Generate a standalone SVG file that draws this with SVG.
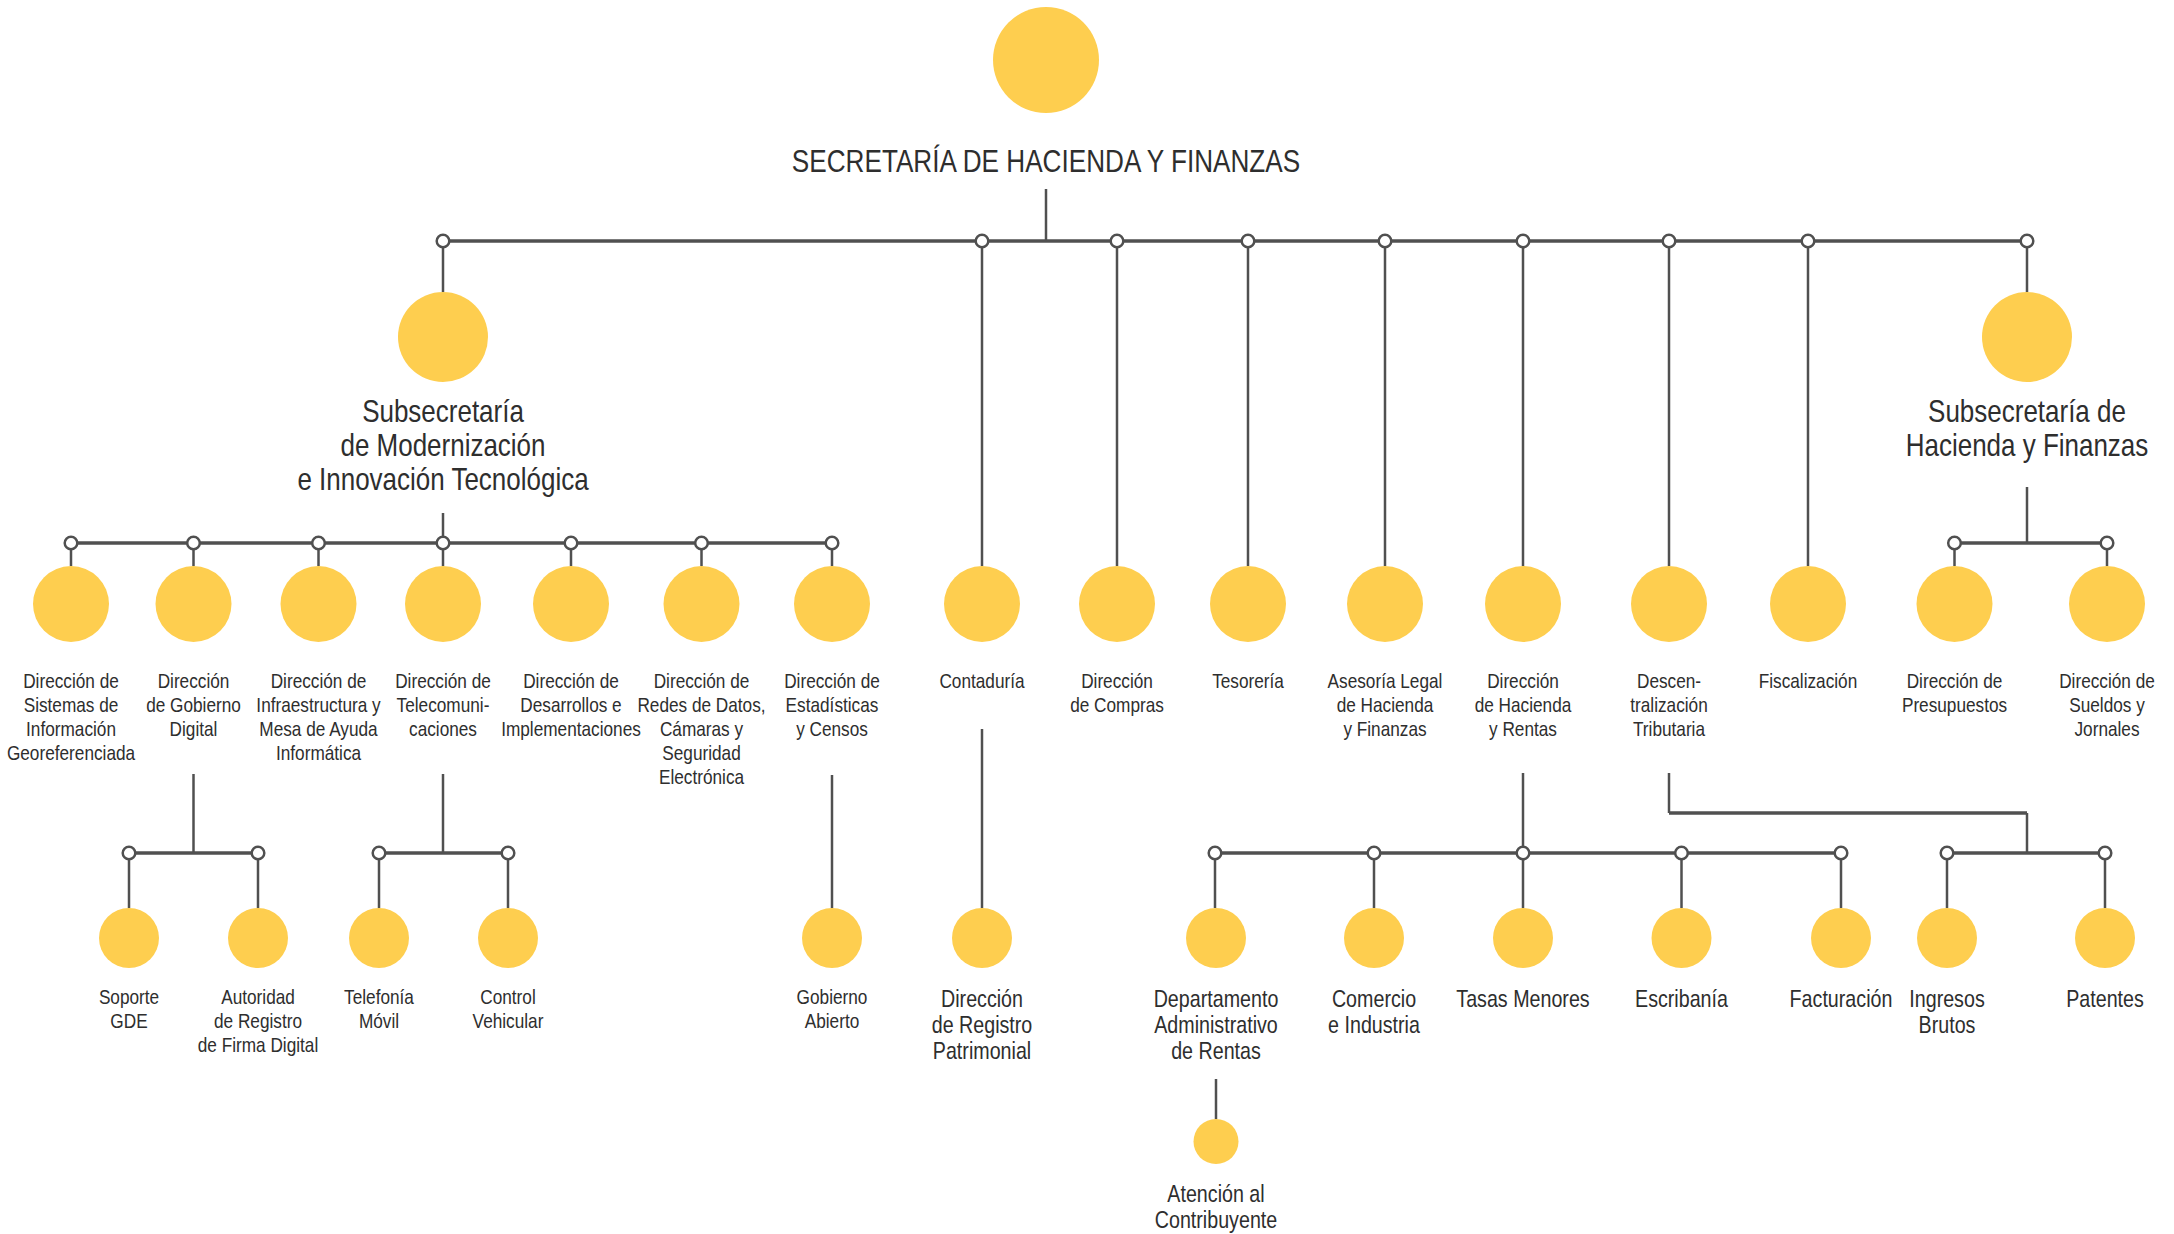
<svg xmlns="http://www.w3.org/2000/svg" width="2174" height="1234" viewBox="0 0 2174 1234">
<style>
  .bg { fill: #ffffff; }
  .node circle { fill: #FECE4F; }
  .lbl { font-family: "Liberation Sans", Arial, sans-serif; fill: #2e2e2e; text-anchor: middle; }
  .f32 { font-size: 31.5px; }
  .f24 { font-size: 24px; }
  .f21 { font-size: 21px; }
  .v { stroke: #505050; stroke-width: 2.5; fill: none; }
  .bar { stroke: #505050; stroke-width: 3.5; fill: none; }
  .dot { fill: #ffffff; stroke: #505050; stroke-width: 2.5; }
</style>
<rect class="bg" x="0" y="0" width="2174" height="1234"/>

<g id="connectors">
  <!-- level 0 -->
  <path class="v" d="M1046 189 V241"/>
  <path class="bar" d="M443 241 H2027"/>
  <path class="v" d="M443 241 V292 M2027 241 V292 M982 241 V566 M1117 241 V566 M1248 241 V566 M1385 241 V566 M1523 241 V566 M1669 241 V566 M1808 241 V566"/>
  <!-- left subsecretaria -->
  <path class="v" d="M443 513 V543"/>
  <path class="bar" d="M71 543 H832"/>
  <path class="v" d="M71 543 V566 M193.5 543 V566 M318.5 543 V566 M443 543 V566 M571 543 V566 M701.5 543 V566 M832 543 V566"/>
  <!-- right subsecretaria -->
  <path class="v" d="M2027 487 V543"/>
  <path class="bar" d="M1954.5 543 H2107"/>
  <path class="v" d="M1954.5 543 V566 M2107 543 V566"/>
  <!-- gobierno digital -->
  <path class="v" d="M193.5 774 V853"/>
  <path class="bar" d="M129 853 H258"/>
  <path class="v" d="M129 853 V908 M258 853 V908"/>
  <!-- telecomunicaciones -->
  <path class="v" d="M443 774 V853"/>
  <path class="bar" d="M379 853 H508"/>
  <path class="v" d="M379 853 V908 M508 853 V908"/>
  <!-- estadisticas -->
  <path class="v" d="M832 775 V908"/>
  <!-- contaduria -->
  <path class="v" d="M982 729 V908"/>
  <!-- hacienda y rentas -->
  <path class="v" d="M1523 773 V853"/>
  <path class="bar" d="M1215 853 H1841"/>
  <path class="v" d="M1215 853 V908 M1374 853 V908 M1523 853 V908 M1681.5 853 V908 M1841 853 V908"/>
  <!-- descentralizacion -->
  <path class="v" d="M1669 773 V813"/>
  <path class="bar" d="M1669 813 H2027"/>
  <path class="v" d="M2027 813 V853"/>
  <path class="bar" d="M1947 853 H2105"/>
  <path class="v" d="M1947 853 V908 M2105 853 V908"/>
  <!-- departamento -->
  <path class="v" d="M1216 1079 V1119"/>
  <!-- junction dots -->
  <g id="dots">
    <circle class="dot" cx="443" cy="241" r="6.3"/>
    <circle class="dot" cx="982" cy="241" r="6.3"/>
    <circle class="dot" cx="1117" cy="241" r="6.3"/>
    <circle class="dot" cx="1248" cy="241" r="6.3"/>
    <circle class="dot" cx="1385" cy="241" r="6.3"/>
    <circle class="dot" cx="1523" cy="241" r="6.3"/>
    <circle class="dot" cx="1669" cy="241" r="6.3"/>
    <circle class="dot" cx="1808" cy="241" r="6.3"/>
    <circle class="dot" cx="2027" cy="241" r="6.3"/>
    <circle class="dot" cx="71" cy="543" r="6.3"/>
    <circle class="dot" cx="193.5" cy="543" r="6.3"/>
    <circle class="dot" cx="318.5" cy="543" r="6.3"/>
    <circle class="dot" cx="443" cy="543" r="6.3"/>
    <circle class="dot" cx="571" cy="543" r="6.3"/>
    <circle class="dot" cx="701.5" cy="543" r="6.3"/>
    <circle class="dot" cx="832" cy="543" r="6.3"/>
    <circle class="dot" cx="1954.5" cy="543" r="6.3"/>
    <circle class="dot" cx="2107" cy="543" r="6.3"/>
    <circle class="dot" cx="129" cy="853" r="6.3"/>
    <circle class="dot" cx="258" cy="853" r="6.3"/>
    <circle class="dot" cx="379" cy="853" r="6.3"/>
    <circle class="dot" cx="508" cy="853" r="6.3"/>
    <circle class="dot" cx="1215" cy="853" r="6.3"/>
    <circle class="dot" cx="1374" cy="853" r="6.3"/>
    <circle class="dot" cx="1523" cy="853" r="6.3"/>
    <circle class="dot" cx="1681.5" cy="853" r="6.3"/>
    <circle class="dot" cx="1841" cy="853" r="6.3"/>
    <circle class="dot" cx="1947" cy="853" r="6.3"/>
    <circle class="dot" cx="2105" cy="853" r="6.3"/>
  </g>
</g>

<!-- level 0 -->
<g id="n-secretaria" class="node">
  <circle cx="1046" cy="60" r="53"/>
  <text class="lbl f32" transform="translate(1046 0) scale(0.83 1)"><tspan x="0" y="172">SECRETARÍA DE HACIENDA Y FINANZAS</tspan></text>
</g>

<!-- level 1 -->
<g id="n-subsec-modernizacion" class="node">
  <circle cx="443" cy="337" r="45"/>
  <text class="lbl f32" transform="translate(443 0) scale(0.825 1)"><tspan x="0" y="422">Subsecretaría</tspan><tspan x="0" y="456">de Modernización</tspan><tspan x="0" y="490">e Innovación Tecnológica</tspan></text>
</g>
<g id="n-subsec-hacienda" class="node">
  <circle cx="2027" cy="337" r="45"/>
  <text class="lbl f32" transform="translate(2027 0) scale(0.825 1)"><tspan x="0" y="422">Subsecretaría de</tspan><tspan x="0" y="456">Hacienda y Finanzas</tspan></text>
</g>

<!-- level 2 -->
<g id="n-sistemas-info" class="node">
  <circle cx="71" cy="604" r="38"/>
  <text class="lbl f21" transform="translate(71 0) scale(0.82 1)"><tspan x="0" y="688.5">Dirección de</tspan><tspan x="0" y="712.5">Sistemas de</tspan><tspan x="0" y="736.5">Información</tspan><tspan x="0" y="760.5">Georeferenciada</tspan></text>
</g>
<g id="n-gobierno-digital" class="node">
  <circle cx="193.5" cy="604" r="38"/>
  <text class="lbl f21" transform="translate(193.5 0) scale(0.82 1)"><tspan x="0" y="688.5">Dirección</tspan><tspan x="0" y="712.5">de Gobierno</tspan><tspan x="0" y="736.5">Digital</tspan></text>
</g>
<g id="n-infraestructura" class="node">
  <circle cx="318.5" cy="604" r="38"/>
  <text class="lbl f21" transform="translate(318.5 0) scale(0.82 1)"><tspan x="0" y="688.5">Dirección de</tspan><tspan x="0" y="712.5">Infraestructura y</tspan><tspan x="0" y="736.5">Mesa de Ayuda</tspan><tspan x="0" y="760.5">Informática</tspan></text>
</g>
<g id="n-telecomunicaciones" class="node">
  <circle cx="443" cy="604" r="38"/>
  <text class="lbl f21" transform="translate(443 0) scale(0.82 1)"><tspan x="0" y="688.5">Dirección de</tspan><tspan x="0" y="712.5">Telecomuni-</tspan><tspan x="0" y="736.5">caciones</tspan></text>
</g>
<g id="n-desarrollos" class="node">
  <circle cx="571" cy="604" r="38"/>
  <text class="lbl f21" transform="translate(571 0) scale(0.82 1)"><tspan x="0" y="688.5">Dirección de</tspan><tspan x="0" y="712.5">Desarrollos e</tspan><tspan x="0" y="736.5">Implementaciones</tspan></text>
</g>
<g id="n-redes" class="node">
  <circle cx="701.5" cy="604" r="38"/>
  <text class="lbl f21" transform="translate(701.5 0) scale(0.82 1)"><tspan x="0" y="688.5">Dirección de</tspan><tspan x="0" y="712.5">Redes de Datos,</tspan><tspan x="0" y="736.5">Cámaras y</tspan><tspan x="0" y="760.5">Seguridad</tspan><tspan x="0" y="784.5">Electrónica</tspan></text>
</g>
<g id="n-estadisticas" class="node">
  <circle cx="832" cy="604" r="38"/>
  <text class="lbl f21" transform="translate(832 0) scale(0.82 1)"><tspan x="0" y="688.5">Dirección de</tspan><tspan x="0" y="712.5">Estadísticas</tspan><tspan x="0" y="736.5">y Censos</tspan></text>
</g>
<g id="n-contaduria" class="node">
  <circle cx="982" cy="604" r="38"/>
  <text class="lbl f21" transform="translate(982 0) scale(0.82 1)"><tspan x="0" y="688.5">Contaduría</tspan></text>
</g>
<g id="n-compras" class="node">
  <circle cx="1117" cy="604" r="38"/>
  <text class="lbl f21" transform="translate(1117 0) scale(0.82 1)"><tspan x="0" y="688.5">Dirección</tspan><tspan x="0" y="712.5">de Compras</tspan></text>
</g>
<g id="n-tesoreria" class="node">
  <circle cx="1248" cy="604" r="38"/>
  <text class="lbl f21" transform="translate(1248 0) scale(0.82 1)"><tspan x="0" y="688.5">Tesorería</tspan></text>
</g>
<g id="n-asesoria" class="node">
  <circle cx="1385" cy="604" r="38"/>
  <text class="lbl f21" transform="translate(1385 0) scale(0.82 1)"><tspan x="0" y="688.5">Asesoría Legal</tspan><tspan x="0" y="712.5">de Hacienda</tspan><tspan x="0" y="736.5">y Finanzas</tspan></text>
</g>
<g id="n-hacienda-rentas" class="node">
  <circle cx="1523" cy="604" r="38"/>
  <text class="lbl f21" transform="translate(1523 0) scale(0.82 1)"><tspan x="0" y="688.5">Dirección</tspan><tspan x="0" y="712.5">de Hacienda</tspan><tspan x="0" y="736.5">y Rentas</tspan></text>
</g>
<g id="n-descentralizacion" class="node">
  <circle cx="1669" cy="604" r="38"/>
  <text class="lbl f21" transform="translate(1669 0) scale(0.82 1)"><tspan x="0" y="688.5">Descen-</tspan><tspan x="0" y="712.5">tralización</tspan><tspan x="0" y="736.5">Tributaria</tspan></text>
</g>
<g id="n-fiscalizacion" class="node">
  <circle cx="1808" cy="604" r="38"/>
  <text class="lbl f21" transform="translate(1808 0) scale(0.82 1)"><tspan x="0" y="688.5">Fiscalización</tspan></text>
</g>
<g id="n-presupuestos" class="node">
  <circle cx="1954.5" cy="604" r="38"/>
  <text class="lbl f21" transform="translate(1954.5 0) scale(0.82 1)"><tspan x="0" y="688.5">Dirección de</tspan><tspan x="0" y="712.5">Presupuestos</tspan></text>
</g>
<g id="n-sueldos" class="node">
  <circle cx="2107" cy="604" r="38"/>
  <text class="lbl f21" transform="translate(2107 0) scale(0.82 1)"><tspan x="0" y="688.5">Dirección de</tspan><tspan x="0" y="712.5">Sueldos y</tspan><tspan x="0" y="736.5">Jornales</tspan></text>
</g>

<!-- level 3 -->
<g id="n-soporte-gde" class="node">
  <circle cx="129" cy="938" r="30"/>
  <text class="lbl f21" transform="translate(129 0) scale(0.82 1)"><tspan x="0" y="1004">Soporte</tspan><tspan x="0" y="1028">GDE</tspan></text>
</g>
<g id="n-autoridad-firma" class="node">
  <circle cx="258" cy="938" r="30"/>
  <text class="lbl f21" transform="translate(258 0) scale(0.82 1)"><tspan x="0" y="1004">Autoridad</tspan><tspan x="0" y="1028">de Registro</tspan><tspan x="0" y="1052">de Firma Digital</tspan></text>
</g>
<g id="n-telefonia" class="node">
  <circle cx="379" cy="938" r="30"/>
  <text class="lbl f21" transform="translate(379 0) scale(0.82 1)"><tspan x="0" y="1004">Telefonía</tspan><tspan x="0" y="1028">Móvil</tspan></text>
</g>
<g id="n-control-vehicular" class="node">
  <circle cx="508" cy="938" r="30"/>
  <text class="lbl f21" transform="translate(508 0) scale(0.82 1)"><tspan x="0" y="1004">Control</tspan><tspan x="0" y="1028">Vehicular</tspan></text>
</g>
<g id="n-gobierno-abierto" class="node">
  <circle cx="832" cy="938" r="30"/>
  <text class="lbl f21" transform="translate(832 0) scale(0.82 1)"><tspan x="0" y="1004">Gobierno</tspan><tspan x="0" y="1028">Abierto</tspan></text>
</g>
<g id="n-registro-patrimonial" class="node">
  <circle cx="982" cy="938" r="30"/>
  <text class="lbl f24" transform="translate(982 0) scale(0.82 1)"><tspan x="0" y="1007">Dirección</tspan><tspan x="0" y="1033">de Registro</tspan><tspan x="0" y="1059">Patrimonial</tspan></text>
</g>
<g id="n-depto-administrativo" class="node">
  <circle cx="1216" cy="938" r="30"/>
  <text class="lbl f24" transform="translate(1216 0) scale(0.82 1)"><tspan x="0" y="1007">Departamento</tspan><tspan x="0" y="1033">Administrativo</tspan><tspan x="0" y="1059">de Rentas</tspan></text>
</g>
<g id="n-comercio" class="node">
  <circle cx="1374" cy="938" r="30"/>
  <text class="lbl f24" transform="translate(1374 0) scale(0.82 1)"><tspan x="0" y="1007">Comercio</tspan><tspan x="0" y="1033">e Industria</tspan></text>
</g>
<g id="n-tasas" class="node">
  <circle cx="1523" cy="938" r="30"/>
  <text class="lbl f24" transform="translate(1523 0) scale(0.82 1)"><tspan x="0" y="1007">Tasas Menores</tspan></text>
</g>
<g id="n-escribania" class="node">
  <circle cx="1681.5" cy="938" r="30"/>
  <text class="lbl f24" transform="translate(1681.5 0) scale(0.82 1)"><tspan x="0" y="1007">Escribanía</tspan></text>
</g>
<g id="n-facturacion" class="node">
  <circle cx="1841" cy="938" r="30"/>
  <text class="lbl f24" transform="translate(1841 0) scale(0.82 1)"><tspan x="0" y="1007">Facturación</tspan></text>
</g>
<g id="n-ingresos-brutos" class="node">
  <circle cx="1947" cy="938" r="30"/>
  <text class="lbl f24" transform="translate(1947 0) scale(0.82 1)"><tspan x="0" y="1007">Ingresos</tspan><tspan x="0" y="1033">Brutos</tspan></text>
</g>
<g id="n-patentes" class="node">
  <circle cx="2105" cy="938" r="30"/>
  <text class="lbl f24" transform="translate(2105 0) scale(0.82 1)"><tspan x="0" y="1007">Patentes</tspan></text>
</g>

<!-- level 4 -->
<g id="n-atencion" class="node">
  <circle cx="1216" cy="1141.5" r="22.5"/>
  <text class="lbl f24" transform="translate(1216 0) scale(0.82 1)"><tspan x="0" y="1202">Atención al</tspan><tspan x="0" y="1228">Contribuyente</tspan></text>
</g>
</svg>
